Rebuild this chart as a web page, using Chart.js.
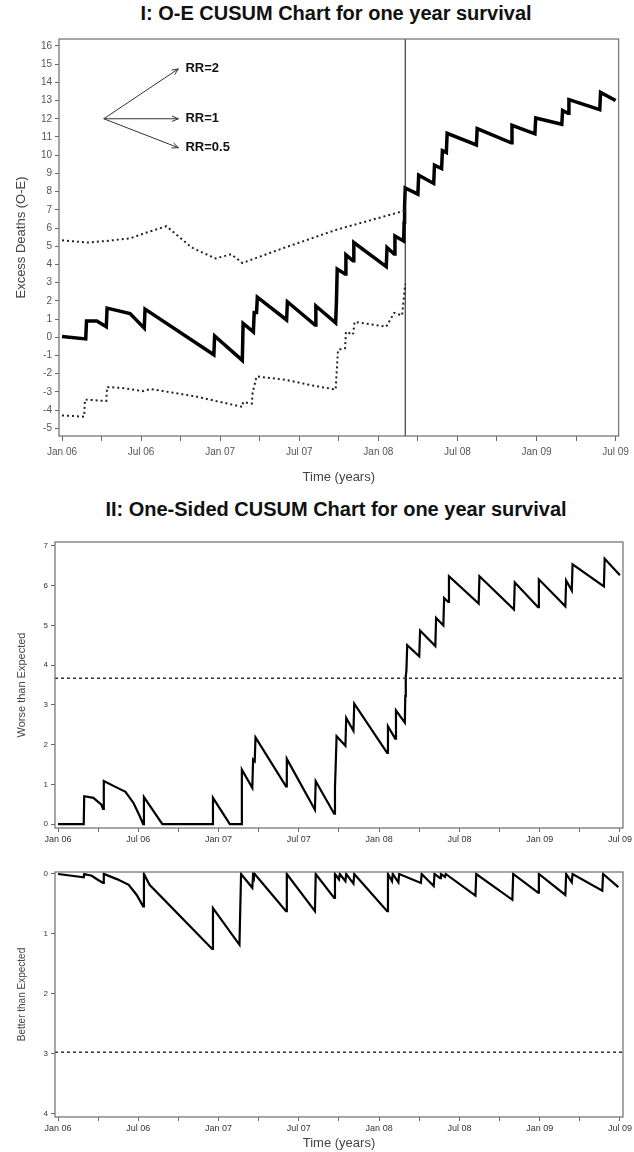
<!DOCTYPE html>
<html>
<head>
<meta charset="utf-8">
<script src="https://cdn.jsdelivr.net/npm/chart.js@4.4.0/dist/chart.umd.min.js"></script>
<style>
  body { margin: 0; background: #fff; width: 634px; height: 1152px; position: relative; overflow: hidden; font-family: "Liberation Sans", Arial, sans-serif; }
  .title { position: absolute; left: 0; width: 634px; text-align: center; font-weight: bold; font-size: 20px; line-height: 23px; color: #111; padding-left: 38px; box-sizing: border-box; }
  .box { position: absolute; left: 0; width: 634px; }
</style>
</head>
<body>
<div class="title" style="top:2px">I: O-E CUSUM Chart for one year survival</div>
<div class="box" style="top:30px;height:455px"><canvas id="oeChart"></canvas></div>
<div class="title" style="top:498px">II: One-Sided CUSUM Chart for one year survival</div>
<div class="box" style="top:530px;height:320px"><canvas id="worseChart"></canvas></div>
<div class="box" style="top:850px;height:301px"><canvas id="betterChart"></canvas></div>
<script>
// x values are decimal years (2006.5 = Jul 06)
const xTicks = [2006, 2006.25, 2006.5, 2006.75, 2007, 2007.25, 2007.5, 2007.75, 2008, 2008.25, 2008.5, 2008.75, 2009, 2009.25, 2009.5];

// Chart I: O-E cumulative excess deaths
const oeYears = [2006.00, 2006.15, 2006.155, 2006.22, 2006.28, 2006.285, 2006.43, 2006.52, 2006.525, 2006.96, 2006.965, 2007.14, 2007.145, 2007.21, 2007.215, 2007.23, 2007.235, 2007.42, 2007.425, 2007.60, 2007.605, 2007.73, 2007.735, 2007.74, 2007.79, 2007.795, 2007.84, 2007.845, 2008.05, 2008.055, 2008.10, 2008.105, 2008.16, 2008.163, 2008.166, 2008.17, 2008.25, 2008.255, 2008.35, 2008.355, 2008.40, 2008.405, 2008.43, 2008.435, 2008.62, 2008.625, 2008.84, 2008.845, 2008.99, 2008.995, 2009.16, 2009.165, 2009.20, 2009.205, 2009.40, 2009.405, 2009.50];
const oeValues = [0.04, -0.09, 0.9, 0.9, 0.58, 1.6, 1.3, 0.5, 1.55, -0.96, 0.07, -1.27, 0.76, 0.3, 1.36, 1.36, 2.2, 0.95, 1.95, 0.67, 1.72, 0.8, 1.9, 3.75, 3.48, 4.53, 4.2, 5.2, 3.88, 4.93, 4.57, 5.56, 5.29, 6.3, 7.2, 8.2, 7.86, 8.9, 8.45, 9.45, 9.27, 10.25, 10.15, 11.2, 10.56, 11.46, 10.68, 11.64, 11.17, 12.04, 11.7, 12.45, 12.3, 13.05, 12.5, 13.45, 13.0];

const upperYears = [2006.00, 2006.16, 2006.28, 2006.43, 2006.53, 2006.66, 2006.82, 2006.97, 2007.07, 2007.14, 2007.41, 2007.74, 2008.17];
const upperValues = [5.33, 5.2, 5.29, 5.43, 5.74, 6.1, 4.93, 4.33, 4.56, 4.08, 4.93, 5.92, 6.96];

const lowerYears = [2006.00, 2006.14, 2006.145, 2006.28, 2006.285, 2006.38, 2006.51, 2006.56, 2006.84, 2007.14, 2007.145, 2007.20, 2007.205, 2007.23, 2007.41, 2007.58, 2007.73, 2007.745, 2007.79, 2007.795, 2007.84, 2007.85, 2008.05, 2008.10, 2008.15, 2008.17];
const lowerValues = [-4.29, -4.36, -3.42, -3.5, -2.73, -2.78, -2.96, -2.84, -3.24, -3.82, -3.56, -3.64, -3.05, -2.15, -2.33, -2.64, -2.87, -0.69, -0.6, 0.3, 0.15, 0.85, 0.58, 1.34, 1.2, 2.93];

const signalYear = 2008.17;
const oeTicks = [-5, -4, -3, -2, -1, 0, 1, 2, 3, 4, 5, 6, 7, 8, 9, 10, 11, 12, 13, 14, 15, 16];

// RR arrows: origin and tips
const arrowFrom = [2006.264, 12];
const arrowLabels = ['RR=2', 'RR=1', 'RR=0.5'];
const arrowTips = [[2006.736, 14.74], [2006.736, 12], [2006.736, 10.41]];

// Chart II upper: worse than expected
const worseYears = [2006.00, 2006.16, 2006.163, 2006.22, 2006.27, 2006.28, 2006.285, 2006.37, 2006.42, 2006.47, 2006.51, 2006.53, 2006.535, 2006.65, 2006.96, 2006.965, 2007.07, 2007.14, 2007.145, 2007.21, 2007.215, 2007.225, 2007.23, 2007.42, 2007.425, 2007.60, 2007.605, 2007.72, 2007.725, 2007.73, 2007.735, 2007.79, 2007.795, 2007.84, 2007.845, 2008.05, 2008.055, 2008.10, 2008.105, 2008.16, 2008.163, 2008.166, 2008.17, 2008.175, 2008.25, 2008.255, 2008.35, 2008.355, 2008.40, 2008.405, 2008.43, 2008.435, 2008.62, 2008.625, 2008.84, 2008.845, 2008.99, 2008.995, 2009.16, 2009.165, 2009.20, 2009.205, 2009.40, 2009.405, 2009.50];
const worseValues = [0, 0, 0.7, 0.66, 0.49, 0.38, 1.08, 0.91, 0.81, 0.53, 0.19, 0, 0.68, 0, 0, 0.66, 0, 0, 1.37, 0.91, 1.62, 1.58, 2.18, 0.95, 1.64, 0.36, 1.08, 0.26, 0.91, 1.54, 2.21, 1.97, 2.67, 2.35, 3.03, 1.79, 2.46, 2.15, 2.86, 2.55, 3.22, 3.72, 3.87, 4.5, 4.22, 4.87, 4.48, 5.19, 5.0, 5.69, 5.59, 6.24, 5.55, 6.24, 5.4, 6.08, 5.46, 6.16, 5.48, 6.13, 5.88, 6.54, 5.98, 6.68, 6.26];
const worseLimit = 3.67;
const worseTicks = [0, 1, 2, 3, 4, 5, 6, 7];

// Chart II lower: better than expected (axis reversed)
const betterYears = [2006.00, 2006.16, 2006.163, 2006.21, 2006.25, 2006.28, 2006.285, 2006.37, 2006.44, 2006.49, 2006.53, 2006.535, 2006.57, 2006.96, 2006.965, 2007.13, 2007.14, 2007.21, 2007.215, 2007.22, 2007.225, 2007.42, 2007.425, 2007.60, 2007.605, 2007.72, 2007.725, 2007.75, 2007.755, 2007.79, 2007.795, 2007.84, 2007.845, 2008.05, 2008.055, 2008.08, 2008.085, 2008.12, 2008.125, 2008.26, 2008.265, 2008.34, 2008.345, 2008.38, 2008.385, 2008.41, 2008.415, 2008.60, 2008.605, 2008.83, 2008.835, 2008.99, 2008.995, 2009.16, 2009.165, 2009.20, 2009.205, 2009.39, 2009.395, 2009.49];
const betterValues = [0, 0.056, 0, 0.03, 0.1, 0.15, 0, 0.09, 0.18, 0.35, 0.54, 0, 0.18, 1.25, 0.57, 1.18, 0, 0.23, 0, 0.04, 0, 0.62, 0, 0.62, 0, 0.4, 0, 0.09, 0, 0.12, 0, 0.16, 0, 0.62, 0, 0.12, 0, 0.14, 0, 0.15, 0, 0.2, 0, 0.07, 0, 0.05, 0, 0.36, 0, 0.43, 0, 0.31, 0, 0.35, 0, 0.14, 0, 0.28, 0, 0.22];
const betterLimit = 2.97;
const betterTicks = [0, 1, 2, 3, 4];

const X_MIN = 2005.981, X_MAX = 2009.519;
const pts = (xs, ys) => xs.map((x, i) => ({ x: x, y: ys[i] }));
const FONT = '"Liberation Sans", Arial, sans-serif';
const NARROW = '"Liberation Sans Narrow", "Arial Narrow", "Liberation Sans", sans-serif';

function tickLabel(v) {
  const q = Math.round(v * 4);
  if (q % 2 !== 0) return '';
  const yr = Math.floor(q / 4);
  const mon = (q % 4 === 0) ? 'Jan ' : 'Jul ';
  return mon + String(yr % 100).padStart(2, '0');
}

const boxPlugin = {
  id: 'box',
  afterDraw(chart) {
    const a = chart.chartArea, ctx = chart.ctx;
    ctx.save();
    ctx.strokeStyle = '#777';
    ctx.lineWidth = 1.3;
    ctx.strokeRect(a.left, a.top, a.right - a.left, a.bottom - a.top);
    ctx.restore();
  }
};

const arrowPlugin = {
  id: 'arrows',
  afterDatasetsDraw(chart) {
    if (!chart.options.plugins.arrows) return;
    const xs = chart.scales.x, ys = chart.scales.y, ctx = chart.ctx;
    const x0 = xs.getPixelForValue(arrowFrom[0]), y0 = ys.getPixelForValue(arrowFrom[1]);
    ctx.save();
    ctx.strokeStyle = '#333';
    ctx.fillStyle = '#111';
    ctx.lineWidth = 1;
    ctx.font = 'bold 13px ' + FONT;
    ctx.textBaseline = 'middle';
    arrowTips.forEach((t, i) => {
      const x1 = xs.getPixelForValue(t[0]), y1 = ys.getPixelForValue(t[1]);
      ctx.beginPath();
      ctx.moveTo(x0, y0);
      ctx.lineTo(x1, y1);
      const ang = Math.atan2(y1 - y0, x1 - x0);
      ctx.moveTo(x1 - 7 * Math.cos(ang - 0.4), y1 - 7 * Math.sin(ang - 0.4));
      ctx.lineTo(x1, y1);
      ctx.lineTo(x1 - 7 * Math.cos(ang + 0.4), y1 - 7 * Math.sin(ang + 0.4));
      ctx.stroke();
      ctx.fillText(arrowLabels[i], x1 + 7, y1);
    });
    ctx.restore();
  }
};

function xScale(opts) {
  return {
    type: 'linear',
    min: X_MIN,
    max: X_MAX,
    afterBuildTicks: s => { s.ticks = xTicks.map(v => ({ value: v })); },
    afterFit: s => { s.height = opts.height; },
    grid: { drawOnChartArea: false, drawTicks: true, tickLength: opts.tickLen, color: '#666' },
    border: { display: false },
    ticks: { callback: tickLabel, color: opts.color, font: { family: FONT, size: opts.tickSize }, maxRotation: 0, autoSkip: false, padding: opts.tickPad },
    title: { display: !!opts.title, text: opts.title || '', color: '#444', font: { family: FONT, size: 13 }, padding: { top: 0, bottom: opts.titlePad || 0 } }
  };
}

function yScale(opts) {
  return {
    type: 'linear',
    min: opts.min,
    max: opts.max,
    reverse: !!opts.reverse,
    afterBuildTicks: s => { s.ticks = opts.ticks.map(v => ({ value: v })); },
    afterFit: s => { s.width = opts.width; },
    grid: { drawOnChartArea: false, drawTicks: true, tickLength: 4, color: '#666' },
    border: { display: false },
    ticks: { color: opts.color, font: { family: FONT, size: opts.tickSize }, padding: 3 },
    title: { display: true, text: opts.title, color: '#444', font: { family: opts.titleFont, size: opts.titleSize }, padding: { top: opts.titleLeft, bottom: 0 } }
  };
}

const common = {
  responsive: true,
  maintainAspectRatio: false,
  animation: false,
  events: [],
  elements: { point: { radius: 0 }, line: { tension: 0 } },
  plugins: { legend: { display: false }, tooltip: { enabled: false } }
};

new Chart(document.getElementById('oeChart'), {
  type: 'line',
  data: {
    datasets: [
      { data: pts(upperYears, upperValues), borderColor: '#222', borderWidth: 2, borderDash: [2, 3] },
      { data: pts(lowerYears, lowerValues), borderColor: '#222', borderWidth: 2, borderDash: [2, 3] },
      { data: pts([signalYear, signalYear], [-5.42, 16.38]), borderColor: '#111', borderWidth: 1 },
      { data: pts(oeYears, oeValues), borderColor: '#000', borderWidth: 3.5, borderJoinStyle: 'miter' }
    ]
  },
  options: Object.assign({}, common, {
    layout: { padding: { top: 8, right: 13, bottom: 0, left: 0 } },
    plugins: Object.assign({}, common.plugins, { arrows: true }),
    scales: {
      x: xScale({ height: 49, tickLen: 5, tickSize: 10, tickPad: 5, color: '#555', title: 'Time (years)' }),
      y: yScale({ min: -5.42, max: 16.38, ticks: oeTicks, width: 59, tickSize: 10, color: '#555', title: 'Excess Deaths (O-E)', titleFont: FONT, titleSize: 13, titleLeft: 14 })
    }
  }),
  plugins: [boxPlugin, arrowPlugin]
});

new Chart(document.getElementById('worseChart'), {
  type: 'line',
  data: {
    datasets: [
      { data: pts([X_MIN, X_MAX], [worseLimit, worseLimit]), borderColor: '#333', borderWidth: 1.5, borderDash: [3, 3] },
      { data: pts(worseYears, worseValues), borderColor: '#000', borderWidth: 2.2, borderJoinStyle: 'miter' }
    ]
  },
  options: Object.assign({}, common, {
    layout: { padding: { top: 12, right: 11, bottom: 0, left: 0 } },
    scales: {
      x: xScale({ height: 22, tickLen: 4, tickSize: 9, tickPad: 2, color: '#333' }),
      y: yScale({ min: -0.1, max: 7.1, ticks: worseTicks, width: 55, tickSize: 8, color: '#333', title: 'Worse than Expected', titleFont: NARROW, titleSize: 11, titleLeft: 15 })
    }
  }),
  plugins: [boxPlugin]
});

new Chart(document.getElementById('betterChart'), {
  type: 'line',
  data: {
    datasets: [
      { data: pts([X_MIN, X_MAX], [betterLimit, betterLimit]), borderColor: '#333', borderWidth: 1.5, borderDash: [3, 3] },
      { data: pts(betterYears, betterValues), borderColor: '#000', borderWidth: 2.2, borderJoinStyle: 'miter' }
    ]
  },
  options: Object.assign({}, common, {
    layout: { padding: { top: 22, right: 11, bottom: 0, left: 0 } },
    scales: {
      x: xScale({ height: 34, tickLen: 4, tickSize: 9, tickPad: 2, color: '#333', title: 'Time (years)' }),
      y: yScale({ min: -0.033, max: 4.05, ticks: betterTicks, width: 55, tickSize: 8, color: '#333', reverse: true, title: 'Better than Expected', titleFont: NARROW, titleSize: 10, titleLeft: 16 })
    }
  }),
  plugins: [boxPlugin]
});
</script>
</body>
</html>
